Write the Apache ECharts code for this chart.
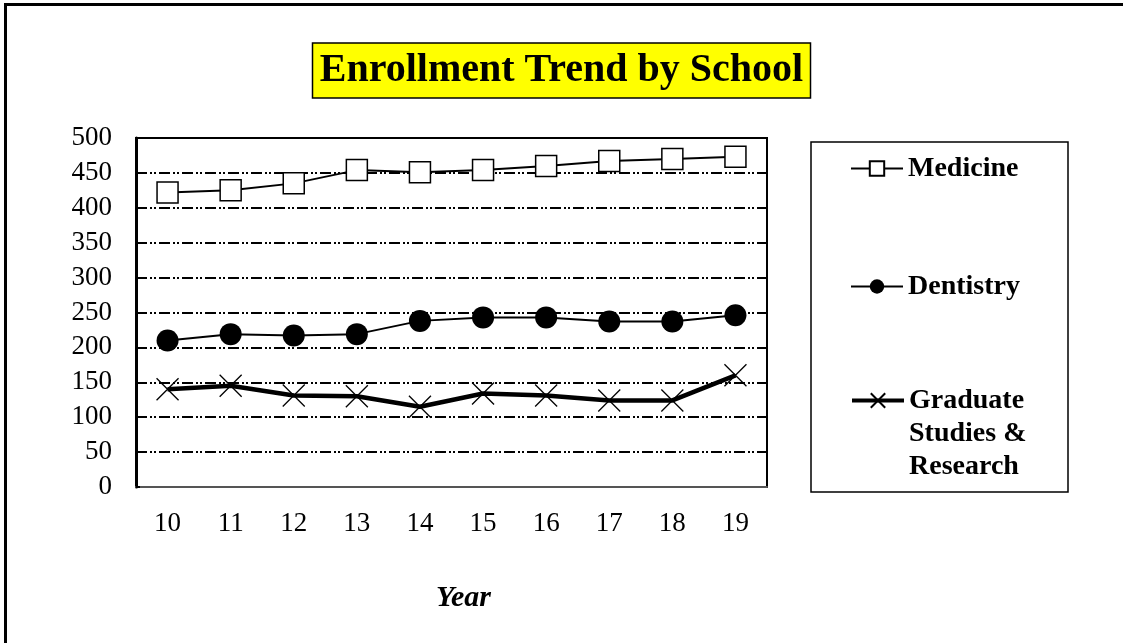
<!DOCTYPE html>
<html>
<head>
<meta charset="utf-8">
<script src="https://cdn.jsdelivr.net/npm/echarts@6/dist/echarts.min.js"></script>
<style>
  html, body { margin: 0; padding: 0; background: #fff; }
  #chart { width: 1123px; height: 643px; }
</style>
</head>
<body>
<div id="chart"></div>
<script>
// Values (enrollment per school year).
const YEARS = ["10", "11", "12", "13", "14", "15", "16", "17", "18", "19"];
const MEDICINE = [422, 425, 435, 454, 451, 454, 460, 467, 470, 473];
const DENTISTRY = [210, 219, 217, 219, 238, 243, 243, 237, 237, 246];
const GRADUATE = [140, 145, 131, 130, 115, 134, 131, 124, 124, 160];

const SERIF = "'Liberation Serif', 'Times New Roman', serif";
const CROSS = "path://M0,0L20,20M20,0L0,20";

const legendText = {
  fontFamily: SERIF, fontWeight: "bold", fontSize: 28, color: "#000", lineHeight: 33,
};

function legendFor(name, top, lineWidth) {
  return {
    data: [name],
    left: 850,
    top,
    padding: 0,
    itemWidth: 52,
    itemHeight: 18,
    selectedMode: false,
    lineStyle: { width: lineWidth, color: "#000" },
    textStyle: legendText,
  };
}

const option = {
  animation: false,
  backgroundColor: "#fff",
  title: {
    text: "Enrollment Trend by School",
    left: "center",
    top: 43,
    padding: [5, 8, 5, 8],
    backgroundColor: "#ffff00",
    borderColor: "#000",
    borderWidth: 1.5,
    textStyle: { fontFamily: SERIF, fontWeight: "bold", fontSize: 40, color: "#000", lineHeight: 45 },
  },
  legend: [
    legendFor("Medicine", 152, 2),
    legendFor("Dentistry", 270, 2),
    legendFor("Graduate Studies & Research", 318, 4),
  ],
  grid: { left: 136, right: 356, top: 138, bottom: 156, show: true, borderColor: "#000", borderWidth: 2, backgroundColor: "#fff" },
  xAxis: {
    type: "category",
    data: YEARS,
    name: "Year",
    nameLocation: "middle",
    nameGap: 96,
    nameTextStyle: { fontFamily: SERIF, fontWeight: "bold", fontStyle: "italic", fontSize: 30, color: "#000", padding: [0, 0, 0, 24] },
    axisLine: { lineStyle: { color: "#555", width: 2 } },
    axisTick: { show: false },
    axisLabel: { fontFamily: SERIF, fontSize: 27, color: "#000", margin: 23 },
  },
  yAxis: {
    type: "value",
    min: 0,
    max: 500,
    interval: 50,
    axisLine: { show: true, lineStyle: { color: "#000", width: 3 } },
    axisTick: { show: true, inside: true, length: 4, lineStyle: { color: "#000", width: 2 } },
    axisLabel: { fontFamily: SERIF, fontSize: 27, color: "#000", margin: 24 },
    splitLine: { lineStyle: { color: "#000", width: 2, type: [11, 3, 2, 2, 2, 3] } },
  },
  series: [
    {
      name: "Medicine",
      type: "line",
      data: MEDICINE,
      symbol: "rect",
      symbolSize: 21,
      lineStyle: { color: "#000", width: 2 },
      itemStyle: { color: "#fff", borderColor: "#000", borderWidth: 1.5 },
      z: 3,
    },
    {
      name: "Dentistry",
      type: "line",
      data: DENTISTRY,
      symbol: "circle",
      symbolSize: 22,
      lineStyle: { color: "#000", width: 2 },
      itemStyle: { color: "#000", borderColor: "#000", borderWidth: 0 },
      z: 3,
    },
    {
      name: "Graduate Studies & Research",
      type: "line",
      data: GRADUATE,
      symbol: CROSS,
      symbolSize: 22,
      lineStyle: { color: "#000", width: 4.5 },
      itemStyle: { color: "#000", borderColor: "#000", borderWidth: 1.3 },
      z: 3,
    },
  ],
  graphic: [
    // page frame: only the left and top edges show in the reference
    { type: "rect", shape: { x: 4, y: 3, width: 3, height: 640 }, style: { fill: "#000" }, silent: true },
    { type: "rect", shape: { x: 4, y: 3, width: 1119, height: 3 }, style: { fill: "#000" }, silent: true },
    // legend box
    {
      type: "rect", z: -1, silent: true,
      shape: { x: 811, y: 142, width: 257, height: 350 },
      style: { fill: "#fff", stroke: "#000", lineWidth: 1.5 },
    },
  ],
};

// Wrap the long legend name; two blank lines on top put "Graduate" in the
// middle of the five-line block, level with the icon like the reference.
option.legend[2].formatter = () => "\n\nGraduate\nStudies &\nResearch";

const chart = echarts.init(document.getElementById("chart"));
chart.setOption(option);
window.addEventListener("resize", () => chart.resize());
</script>
</body>
</html>
